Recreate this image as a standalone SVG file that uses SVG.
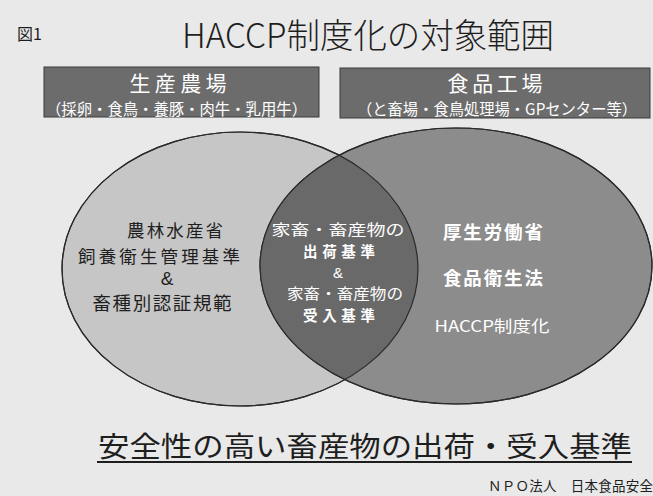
<svg xmlns="http://www.w3.org/2000/svg" width="653" height="496" viewBox="0 0 653 496">
  <style>
    text { font-family: "Noto Sans CJK JP", "Noto Sans", sans-serif; }
    .dark { fill: #1e1e1e; }
    .white { fill: #ffffff; }
    .box { fill: #6c6c6c; stroke: #3a3a3a; stroke-width: 1; }
    .ell { stroke: #2a2a2a; stroke-width: 1.2; }
    .b { font-weight: bold; }
    .amp { font-family: "Liberation Sans", sans-serif; }
  </style>
  <defs>
    <clipPath id="clipLeft">
      <ellipse cx="240" cy="269" rx="178" ry="137"/>
    </clipPath>
  </defs>

  <rect x="0" y="0" width="653" height="496" fill="#e9e9e9"/>

  <g id="title">
    <text x="17" y="40" font-size="16" class="dark">図1</text>
    <text x="182" y="48" font-size="34" class="dark" font-weight="300" textLength="372" lengthAdjust="spacingAndGlyphs">HACCP制度化の対象範囲</text>
  </g>

  <g id="box-farm">
    <rect x="44" y="67" width="275" height="50" class="box"/>
    <text x="178" y="91" font-size="21" class="white" text-anchor="middle" textLength="97" lengthAdjust="spacing">生産農場</text>
    <text x="46" y="115" font-size="15.5" class="white" textLength="261" lengthAdjust="spacingAndGlyphs">（採卵・食鳥・養豚・肉牛・乳用牛）</text>
  </g>

  <g id="box-factory">
    <rect x="340" y="68" width="310" height="50" class="box"/>
    <text x="495" y="91" font-size="21" class="white" text-anchor="middle" textLength="95" lengthAdjust="spacing">食品工場</text>
    <text x="357" y="115" font-size="15.5" class="white" textLength="280" lengthAdjust="spacingAndGlyphs">（と畜場・食鳥処理場・GPセンター等）</text>
  </g>

  <g id="ellipse-farm">
    <ellipse cx="240" cy="269" rx="178" ry="137" fill="#c6c6c6" class="ell"/>
  </g>

  <g id="ellipse-factory">
    <ellipse cx="456" cy="266" rx="196" ry="138" fill="#8c8c8c" class="ell"/>
  </g>

  <g id="intersection">
    <ellipse cx="456" cy="266" rx="196" ry="138" fill="#696969" clip-path="url(#clipLeft)"/>
    <ellipse cx="240" cy="269" rx="178" ry="137" fill="none" class="ell"/>
    <ellipse cx="456" cy="266" rx="196" ry="138" fill="none" class="ell"/>
  </g>

  <g id="text-farm">
    <text x="175" y="237" font-size="17.5" class="dark" text-anchor="middle" textLength="96" lengthAdjust="spacing">農林水産省</text>
    <text x="159" y="262.5" font-size="17.5" class="dark" text-anchor="middle" textLength="162" lengthAdjust="spacing">飼養衛生管理基準</text>
    <text x="167" y="285" font-size="19" class="dark amp" text-anchor="middle">&amp;</text>
    <text x="162" y="310" font-size="18.5" class="dark" text-anchor="middle" textLength="139" lengthAdjust="spacing">畜種別認証規範</text>
  </g>

  <g id="text-common">
    <text x="338" y="235" font-size="14.5" class="white" text-anchor="middle" textLength="133" lengthAdjust="spacingAndGlyphs">家畜・畜産物の</text>
    <text x="339" y="257" font-size="14.5" class="white b" text-anchor="middle" textLength="72" lengthAdjust="spacing">出荷基準</text>
    <text x="338" y="278" font-size="15" class="white amp" text-anchor="middle">&amp;</text>
    <text x="345" y="299" font-size="14.5" class="white" text-anchor="middle" textLength="116" lengthAdjust="spacingAndGlyphs">家畜・畜産物の</text>
    <text x="339" y="321" font-size="14.5" class="white b" text-anchor="middle" textLength="72" lengthAdjust="spacing">受入基準</text>
  </g>

  <g id="text-factory">
    <text x="493" y="239" font-size="18.5" class="white b" text-anchor="middle" textLength="100" lengthAdjust="spacing">厚生労働省</text>
    <text x="493" y="285" font-size="18.5" class="white b" text-anchor="middle" textLength="100" lengthAdjust="spacing">食品衛生法</text>
    <text x="492" y="332" font-size="16" class="white" text-anchor="middle" textLength="115" lengthAdjust="spacingAndGlyphs">HACCP制度化</text>
  </g>

  <g id="footer">
    <text x="98" y="457" font-size="28" class="dark" textLength="534" lengthAdjust="spacingAndGlyphs">安全性の高い畜産物の出荷・受入基準</text>
    <line x1="97" y1="462" x2="632" y2="462" stroke="#1e1e1e" stroke-width="2"/>
    <text x="488" y="491" font-size="13.5" class="dark" textLength="165" lengthAdjust="spacing">ＮＰＯ法人　日本食品安全</text>
  </g>
</svg>
